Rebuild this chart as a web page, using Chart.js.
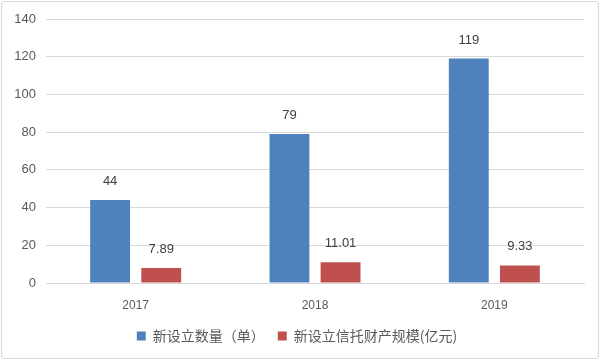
<!DOCTYPE html>
<html>
<head>
<meta charset="utf-8">
<script src="https://cdn.jsdelivr.net/npm/chart.js@4/dist/chart.umd.min.js"></script>
<style>
  html, body { margin: 0; padding: 0; background: #fff; }
  .frame {
    position: absolute; left: 1px; top: 1px; width: 598px; height: 358px;
    border: 1px solid #d9d9d9; border-radius: 3px; box-sizing: border-box;
  }
  canvas { position: absolute; left: 0; top: 0; }
</style>
</head>
<body>
<div class="frame"></div>
<canvas id="chart" width="602" height="362"></canvas>
<script>
const years = ['2017', '2018', '2019'];
const countValues = [44, 79, 119];
const scaleValues = [7.89, 11.01, 9.33];
const seriesNames = ['新设立数量（单）', '新设立信托财产规模(亿元)'];
const yTicks = [0, 20, 40, 60, 80, 100, 120, 140];

const numFont = '"Liberation Sans", "DejaVu Sans", sans-serif';
const cjkFont = '"Noto Sans CJK SC", "Liberation Sans", sans-serif';

// draws the value above each bar
const barLabels = {
    id: 'barLabels',
    afterDatasetsDraw(chart) {
        const ctx = chart.ctx;
        ctx.save();
        ctx.font = '13px ' + numFont;
        ctx.fillStyle = '#404040';
        ctx.textAlign = 'center';
        ctx.textBaseline = 'bottom';
        chart.data.datasets.forEach((ds, i) => {
            chart.getDatasetMeta(i).data.forEach((bar, j) => {
                ctx.fillText(String(ds.data[j]), bar.x, bar.y - 12);
            });
        });
        ctx.restore();
    }
};

new Chart(document.getElementById('chart'), {
    type: 'bar',
    data: {
        labels: years,
        datasets: [
            { label: seriesNames[0], data: countValues, backgroundColor: '#4f81bd' },
            { label: seriesNames[1], data: scaleValues, backgroundColor: '#c0504d' }
        ]
    },
    options: {
        responsive: false,
        animation: false,
        categoryPercentage: 0.57,
        barPercentage: 0.78,
        layout: { padding: { left: 10, right: 18, top: 19, bottom: 9 } },
        scales: {
            x: {
                afterFit: axis => { axis.height = 33; },
                grid: { display: false, drawTicks: false },
                border: { color: '#d9d9d9' },
                ticks: { color: '#595959', font: { size: 12, family: numFont }, padding: 15 }
            },
            y: {
                min: 0,
                max: 140,
                afterBuildTicks: axis => { axis.ticks = yTicks.map(v => ({ value: v })); },
                afterFit: axis => { axis.width = 36; },
                grid: { color: '#d9d9d9', drawTicks: false },
                border: { display: false },
                ticks: { color: '#595959', font: { size: 13, family: numFont }, padding: 10 }
            }
        },
        plugins: {
            legend: {
                position: 'bottom',
                labels: {
                    boxWidth: 9,
                    boxHeight: 9,
                    padding: 13,
                    color: '#595959',
                    font: { size: 14, family: cjkFont }
                }
            },
            tooltip: { enabled: false }
        }
    },
    plugins: [barLabels]
});
</script>
</body>
</html>
